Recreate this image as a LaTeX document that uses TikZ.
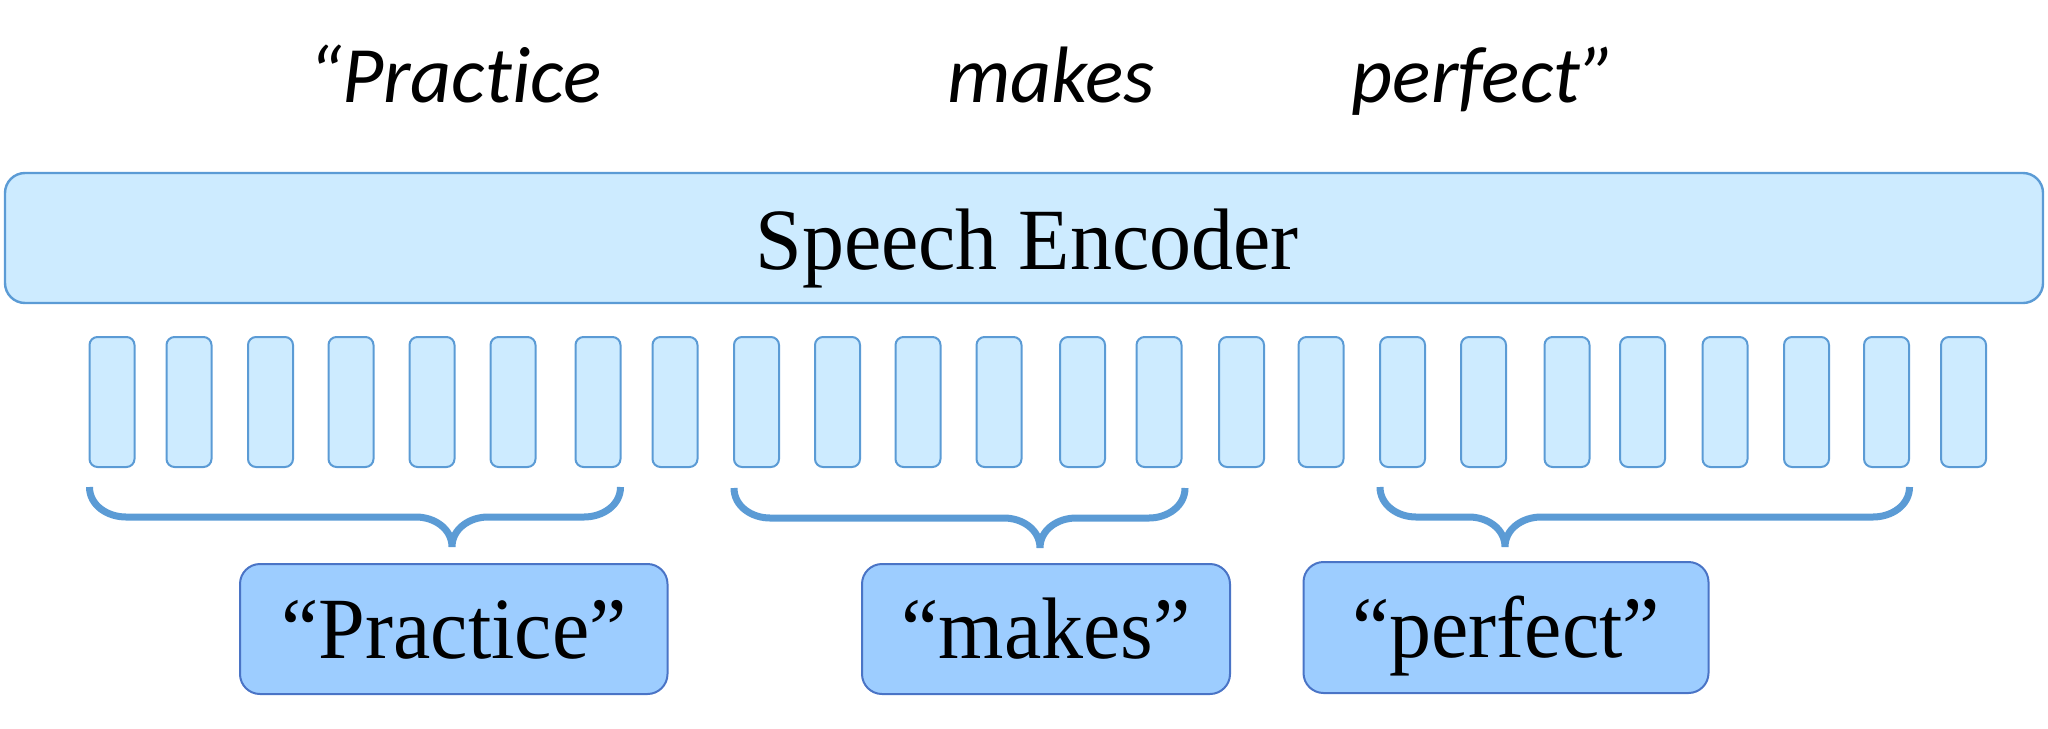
\documentclass[tikz,border=0pt]{standalone}
\usepackage{fontspec}
\setmainfont{Liberation Serif}
\newfontfamily\calfont[Ligatures=NoCommon,RawFeature={-liga;-calt}]{Carlito}
\definecolor{encfill}{HTML}{CDEBFF}
\definecolor{encline}{HTML}{5B9BD5}
\definecolor{wordfill}{HTML}{9DCDFF}
\definecolor{wordline}{HTML}{4A74C6}
\definecolor{bracecol}{HTML}{5B9BD5}
\tikzset{
  encbox/.style={draw=encline, fill=encfill, line width=1.2pt, rounded corners=10pt, inner sep=0pt},
  frame/.style={draw=encline, fill=encfill, line width=1pt, rounded corners=4pt, inner sep=0pt,
                minimum width=22.5pt, minimum height=65pt},
  wordbox/.style={draw=wordline, fill=wordfill, line width=1pt, rounded corners=10pt, inner sep=0pt},
  serifbig/.style={font=\fontsize{42pt}{48pt}\selectfont, anchor=base, inner sep=0pt},
  topword/.style={font=\calfont\itshape\fontsize{40pt}{46pt}\selectfont, anchor=base, inner sep=0pt},
  bracepath/.style={draw=bracecol, line width=3.5pt, line cap=butt}
}
\begin{document}
\begin{tikzpicture}[x=0.5pt,y=-0.5pt]
\useasboundingbox (0,0) rectangle (2048,728);
% top italic words
\node[topword] (t1) at (455,102) {“Pract\kern0pt ice};
\node[topword] (t2) at (1051,102) {makes};
\node[topword] (t3) at (1484,102) {perfect”};
% encoder
\node[encbox, minimum width=1019pt, minimum height=65pt] (enc) at (1024,238) {};
\node[serifbig] (enctext) at (1027,269) {\scalebox{1}[1.04]{Speech Encoder}};
% frames
\foreach \xl [count=\i] in {89.5,166.5,248,328.5,409.5,490.5,575.5,652.5,734,815,895.5,976.5,1060,1136.5,1219,1298.5,1380,1461,1544.5,1620,1702.5,1784,1864,1941}{
  \node[frame] (b\i) at (\xl+22.5,402) {};
}
% braces
\draw[bracepath] (89.5,487) to[out=-90,in=180] (126,517) -- (416,517)
  to[out=0,in=90] (452,547) to[out=90,in=180] (488,517) -- (584,517) to[out=0,in=-90] (620.5,487);
\draw[bracepath] (734,488) to[out=-90,in=180] (770,518) -- (1004,518)
  to[out=0,in=90] (1040,548) to[out=90,in=180] (1076,518) -- (1149,518) to[out=0,in=-90] (1185,488);
\draw[bracepath] (1380,487) to[out=-90,in=180] (1416,517) -- (1469,517)
  to[out=0,in=90] (1505,547) to[out=90,in=180] (1541,517) -- (1873,517) to[out=0,in=-90] (1909.5,487);
% word boxes
\node[wordbox, minimum width=213.75pt, minimum height=65pt] (w1) at (453.75,629) {};
\node[wordbox, minimum width=184pt, minimum height=65pt] (w2) at (1046,629) {};
\node[wordbox, minimum width=202.5pt, minimum height=65.5pt] (w3) at (1506,627.5) {};
\node[serifbig] (w1t) at (454,658) {\scalebox{1}[1.04]{“Practice”}};
\node[serifbig] (w2t) at (1046,658) {\scalebox{1}[1.04]{“makes”}};
\node[serifbig] (w3t) at (1506,657) {\scalebox{1}[1.04]{“perfect”}};
\end{tikzpicture}
\end{document}
